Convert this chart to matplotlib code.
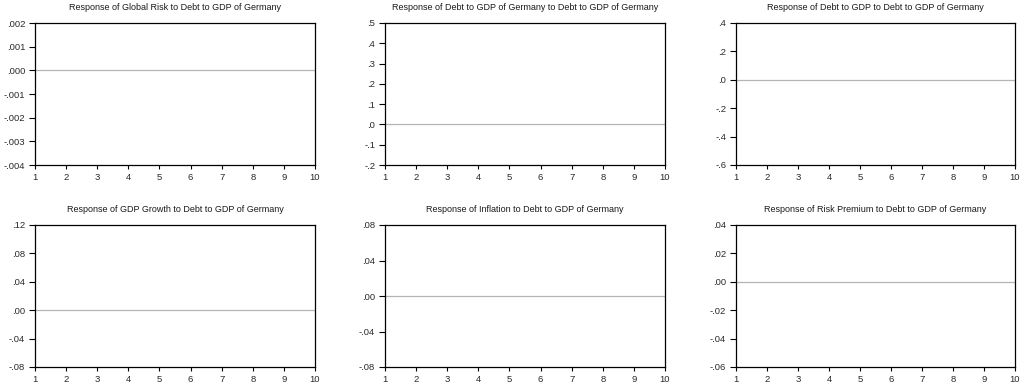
import matplotlib
matplotlib.use("Agg")
import matplotlib.pyplot as plt
import numpy as np

plt.rcParams['font.family'] = ['Liberation Sans', 'DejaVu Sans']

periods = list(range(1, 11))

titles = [
    "Response of Global Risk to Debt to GDP of Germany",
    "Response of Debt to GDP of Germany to Debt to GDP of Germany",
    "Response of Debt to GDP to Debt to GDP of Germany",
    "Response of GDP Growth to Debt to GDP of Germany",
    "Response of Inflation to Debt to GDP of Germany",
    "Response of Risk Premium to Debt to GDP of Germany",
]

y_ticks = [
    [-0.004, -0.003, -0.002, -0.001, 0.000, 0.001, 0.002],
    [-0.2, -0.1, 0.0, 0.1, 0.2, 0.3, 0.4, 0.5],
    [-0.6, -0.4, -0.2, 0.0, 0.2, 0.4],
    [-0.08, -0.04, 0.00, 0.04, 0.08, 0.12],
    [-0.08, -0.04, 0.00, 0.04, 0.08],
    [-0.06, -0.04, -0.02, 0.00, 0.02, 0.04],
]
y_labels = [
    ["-.004", "-.003", "-.002", "-.001", ".000", ".001", ".002"],
    ["-.2", "-.1", ".0", ".1", ".2", ".3", ".4", ".5"],
    ["-.6", "-.4", "-.2", ".0", ".2", ".4"],
    ["-.08", "-.04", ".00", ".04", ".08", ".12"],
    ["-.08", "-.04", ".00", ".04", ".08"],
    ["-.06", "-.04", "-.02", ".00", ".02", ".04"],
]

# zero reference line per panel
zero_level = [0.0] * 6

W, H = 1024, 387
fig = plt.figure(figsize=(W / 100, H / 100), dpi=100)

lefts = [35, 385, 736]
rights = [315, 665, 1015]
tops = [23, 225]
bottoms = [165, 367]

for i in range(6):
    r, c = divmod(i, 3)
    x0 = lefts[c] / W
    w = (rights[c] - lefts[c]) / W
    y0 = 1 - bottoms[r] / H
    h = (bottoms[r] - tops[r]) / H
    ax = fig.add_axes([x0, y0, w, h])
    ax.axhline(zero_level[i], color='#b4b4b4', lw=0.9)
    ax.set_xlim(periods[0], periods[-1])
    ax.set_ylim(y_ticks[i][0], y_ticks[i][-1])
    ax.set_xticks(periods)
    ax.set_xticklabels([str(p) for p in periods], fontsize=6.8)
    ax.set_yticks(y_ticks[i])
    ax.set_yticklabels(y_labels[i], fontsize=6.8)
    ax.tick_params(axis='x', direction='out', length=3, width=0.8, pad=3,
                   color='black', labelcolor='#2a2a2a')
    ax.tick_params(axis='y', direction='out', length=4, width=0.8, pad=3,
                   color='black', labelcolor='#2a2a2a')
    for s in ax.spines.values():
        s.set_linewidth(0.9)
        s.set_color('black')
    ax.set_title(titles[i], fontsize=6.5, pad=9, color='#1a1a1a')

fig.savefig("out.png", dpi=100, facecolor='white')
